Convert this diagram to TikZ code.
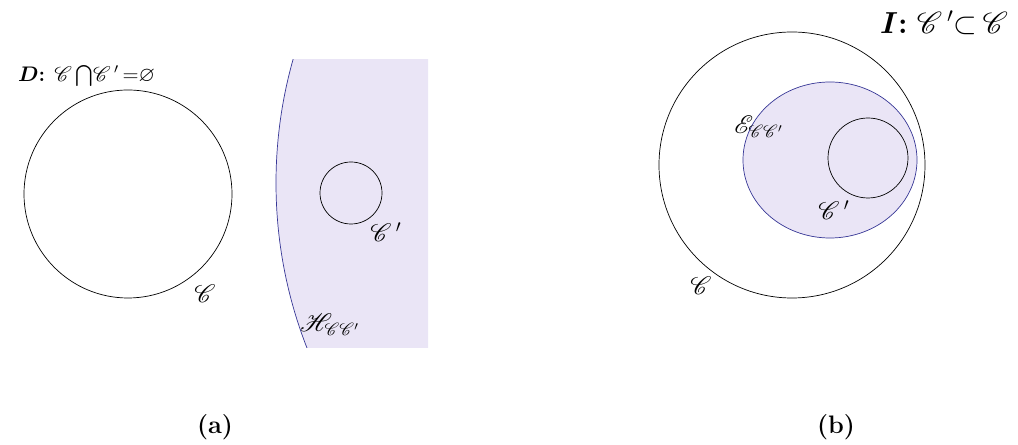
\documentclass[tikz,border=0pt]{standalone}
\usepackage{amsmath, amssymb}
\usepackage{mathrsfs}
\usepackage{bm}
\usepackage{tikz}
\usetikzlibrary{positioning}
\usepackage{xcolor}
\definecolor{lavfill}{RGB}{234,229,246}
\definecolor{rimblue}{RGB}{55,55,150}

\begin{document}
\begin{tikzpicture}[x=0.02cm, y=-0.02cm, lbl/.style={font=\Large, inner sep=1pt}]
    \useasboundingbox (0,0) rectangle (1018,445);
    % (a) disjoint circles
    \begin{scope}
        \clip (268,60) rectangle (428,348);
        \fill[lavfill] (729,183) circle (453);
        \draw[rimblue] (729,183) circle (453);
    \end{scope}
    \draw (128,194) circle (104);
    \draw (351,193) circle (31);
    \node[font=\large, inner sep=1pt, anchor=west] (dlab) at (16,76) {$\bm{D}$\textbf{:} $\mathscr{C}\bigcap\!\mathscr{C}\,'\,{=}\varnothing$};
    \node[lbl] (ca) at (205,294) {$\mathscr{C}$};
    \node[lbl] (cpa) at (386,232) {$\mathscr{C}\,'$};
    \node[lbl] (ha) at (330,325) {$\mathscr{H}_{\mathscr{C}\mathscr{C}'}$};
    \node[font=\Large] (capa) at (215,427) {\textbf{(a)}};
    % (b) nested circles
    \draw (792,165) circle (133);
    \draw[rimblue, fill=lavfill] (830,160) ellipse [x radius=87, y radius=78];
    \draw (868,158) circle (40);
    \node[font=\LARGE, inner sep=1pt, anchor=east] (ilab) at (1010,23) {$\bm{I}$\textbf{:}\ $\mathscr{C}\,'{\subset}\,\mathscr{C}$};
    \node[lbl] (cb) at (701,286) {$\mathscr{C}$};
    \node[lbl] (cpb) at (834,210) {$\mathscr{C}\,'$};
    \node[lbl] (eb) at (759,127) {$\mathscr{E}_{\mathscr{C}\mathscr{C}'}$};
    \node[font=\Large] (capb) at (836,427) {\textbf{(b)}};
\end{tikzpicture}
\end{document}
